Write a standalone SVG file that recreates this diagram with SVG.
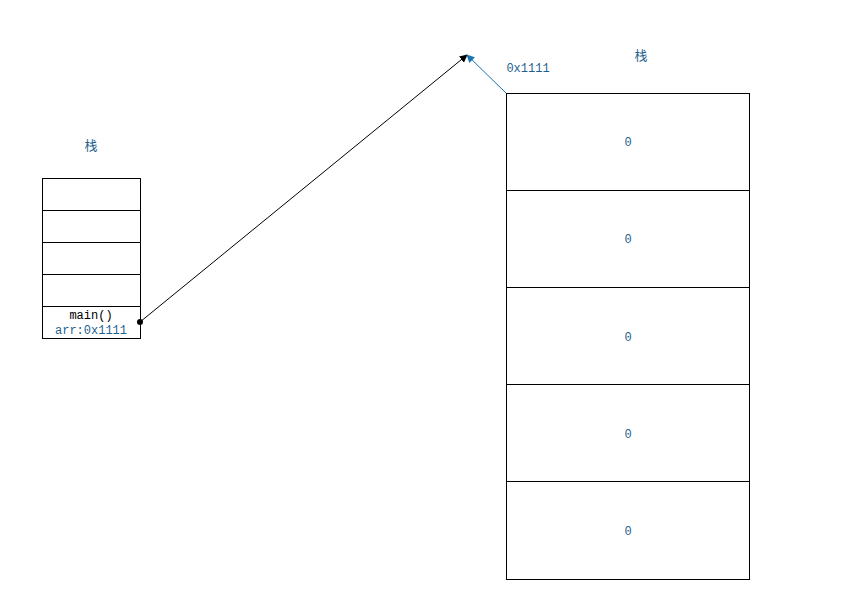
<svg xmlns="http://www.w3.org/2000/svg" width="863" height="614" viewBox="0 0 863 614">
<style>
.box{fill:#fff;stroke:#000;stroke-width:1}
.t{font-family:"Liberation Mono","Noto Sans CJK SC",monospace;font-size:12px;text-anchor:middle;fill:#1f5f8f}
.k{fill:#000}
.cn{font-family:"Noto Sans CJK SC",sans-serif;font-size:13px;text-anchor:middle;fill:#1f5f8f}
</style>
<defs>
<marker id="ab" viewBox="0 0 10 10" refX="9" refY="5" markerWidth="8" markerHeight="8" orient="auto" markerUnits="userSpaceOnUse"><path d="M0,0 L10,5 L0,10 z" fill="#000"/></marker>
<marker id="ablue" viewBox="0 0 10 10" refX="9" refY="5" markerWidth="8" markerHeight="8" orient="auto" markerUnits="userSpaceOnUse"><path d="M0,0 L10,5 L0,10 z" fill="#1a73b5"/></marker>
</defs>
<rect width="863" height="614" fill="#fff"/>
<g id="stack-left">
<text class="cn" x="91" y="150">栈</text>
<rect class="box" x="42.5" y="178.5" width="98" height="32"/>
<rect class="box" x="42.5" y="210.5" width="98" height="32"/>
<rect class="box" x="42.5" y="242.5" width="98" height="32"/>
<rect class="box" x="42.5" y="274.5" width="98" height="32"/>
<rect class="box" x="42.5" y="306.5" width="98" height="32"/>
<text class="t k" x="91" y="319">main()</text>
<text class="t" x="91" y="334">arr:0x1111</text>
</g>
<g id="heap-right">
<text class="cn" x="641" y="60">栈</text>
<text class="t" x="528" y="72">0x1111</text>
<rect class="box" x="506.5" y="93.5" width="243" height="97"/>
<rect class="box" x="506.5" y="190.5" width="243" height="97"/>
<rect class="box" x="506.5" y="287.5" width="243" height="97"/>
<rect class="box" x="506.5" y="384.5" width="243" height="97"/>
<rect class="box" x="506.5" y="481.5" width="243" height="98"/>
<text class="t" x="628" y="146">0</text>
<text class="t" x="628" y="243">0</text>
<text class="t" x="628" y="341">0</text>
<text class="t" x="628" y="438">0</text>
<text class="t" x="628" y="535">0</text>
</g>
<g id="connectors">
<circle cx="140" cy="322" r="3" fill="#000"/>
<line x1="140" y1="322" x2="467" y2="55" stroke="#000" stroke-width="1" marker-end="url(#ab)"/>
<line x1="506" y1="93" x2="467" y2="55" stroke="#1a73b5" stroke-width="1" marker-end="url(#ablue)"/>
</g>
</svg>
